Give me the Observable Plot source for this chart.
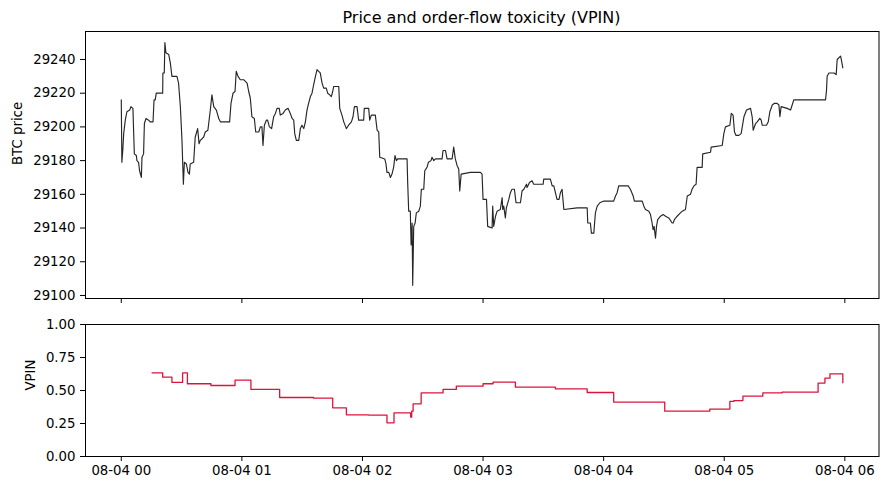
<!DOCTYPE html>
<html>
<head>
<meta charset="utf-8">
<script src="https://cdn.jsdelivr.net/npm/d3@7"></script>
<script src="https://cdn.jsdelivr.net/npm/@observablehq/plot@0.6"></script>
<style>
  html, body { margin: 0; padding: 0; background: white; }
  #wrap { position: relative; width: 888px; height: 490px; font-family: "DejaVu Sans", sans-serif; }
  #title { position: absolute; left: 85px; width: 793px; top: 7px; text-align: center; font-size: 16px; line-height: 22px; color: black; }
  #topPanel { position: absolute; left: 0; top: 0; }
  #bottomPanel { position: absolute; left: 0; top: 305px; }
</style>
</head>
<body>
<div id="wrap">
  <div id="topPanel"></div>
  <div id="bottomPanel"></div>
  <div id="title">Price and order-flow toxicity (VPIN)</div>
</div>
<script>
// ---- data (minutes after 08-04 00:00) ----
const priceLabel = "BTC price";
const vpinLabel = "VPIN";

const priceMinutes = [0,0.3,0.8,1.2,2,2.8,4.2,4.8,5.8,6.1,6.5,7.5,7.8,8.6,9.1,10,10.3,11.1,11.5,12.3,13.6,14.4,15.8,16.3,16.9,17.4,20.6,20.7,21.4,21.7,22.2,23.6,24.4,25.2,27.7,28.5,29.4,30.2,30.9,31.4,32.4,33.2,33.9,34.3,36,36.8,38,38.7,39.3,40.2,41,41.8,43.1,44.3,45.1,46,47.3,48.5,49.3,53.9,54.6,55.6,56.6,57.2,58.1,59.2,60.9,62.6,63.4,64.2,65,66.2,66.9,68.4,69.2,70,70.5,71.2,72.2,72.8,73.7,74.8,75.8,76.7,77.5,78.6,79.1,80.5,81.6,83,84.1,85,85.8,86.3,87.1,88.3,89.1,89.9,90.8,91.6,92.4,93.2,94.1,94.9,95.7,96.6,97.4,98.2,99,99.9,100.7,102,102.7,103.7,104.5,105.2,105.7,108.2,108.7,109.8,110.7,112,113.1,114.5,115.3,116,117.3,118.1,120.6,120.9,123.1,123.6,124.4,126.4,127.3,128.1,128.6,131.1,131.7,132.2,133.1,133.9,134.7,135.5,136.2,136.9,137.5,142.2,142.5,143,143.8,144.2,144.7,145,145.5,146.2,146.8,148,148.8,149.3,150.5,151,152.1,152.8,154.1,154.6,155.5,156.3,159.6,160.1,161.3,162.1,164.6,165.4,166.2,167.1,167.9,168.4,169.1,173.7,178.7,179.5,180,181.7,182.3,184.5,184.8,185.3,186.2,187,188.6,189.5,189.8,190.3,191.1,191.6,192.8,193.6,194.4,195.6,196.4,197.8,198.6,199.4,200.3,201.6,201.9,203.1,204.4,205.2,209.9,210.2,213.5,214.4,215.2,216,216.8,217.8,218.5,219.3,220.2,226.8,231.8,232.1,233.4,233.9,235.1,235.9,236.8,238.1,240.1,245,245.9,246.7,247.5,252.2,253.3,254.7,255.3,259.2,260,260.8,262.5,263.3,264.1,264.6,265.1,265.8,266.3,266.9,268.3,269.6,270.8,272.4,274.1,274.6,275.2,276.6,278.2,279.1,280.7,281.6,283.2,284,284.9,286,286.5,289,289.3,293.2,293.5,299,299.8,300.6,302.8,303.5,304.4,305.1,305.8,307.3,308.4,309.8,311.1,313.1,313.9,314.4,315.6,316.4,317.7,318.4,318.9,321,321.9,322.7,323.9,325,326.3,327.2,327.7,328.3,331.3,333,333.8,334.6,339.6,346.3,350.4,350.9,351.2,352.1,354.6,355.7,356.2,357,357.9,358.4,359];
const priceValues = [29216,29179,29187,29196,29204,29209,29210,29212,29211,29199,29184,29183,29180,29179,29174,29170,29182,29184,29202,29205,29204,29203,29203,29216,29216,29220,29220,29232,29232,29250,29244,29243,29238,29230,29230,29226,29212,29192,29166,29179,29178,29173,29172,29178,29179,29194,29199,29190,29192,29193,29194,29197,29198,29210,29219,29212,29210,29205,29203,29203,29214,29220,29221,29233,29230,29228,29228,29226,29221,29217,29206,29205,29197,29197,29200,29200,29189,29201,29204,29204,29200,29199,29206,29208,29211,29211,29207,29208,29210,29211,29208,29205,29204,29196,29192,29192,29199,29201,29199,29203,29210,29214,29218,29220,29225,29230,29234,29233,29232,29226,29223,29223,29220,29219,29218,29221,29224,29224,29211,29207,29203,29199,29201,29203,29206,29212,29212,29204,29204,29211,29211,29204,29207,29207,29198,29197,29182,29181,29178,29173,29173,29170,29172,29176,29183,29180,29181,29181,29167,29150,29150,29130,29143,29106,29141,29143,29149,29150,29153,29163,29163,29174,29176,29179,29180,29182,29180,29181,29181,29186,29186,29181,29181,29188,29181,29177,29175,29162,29172,29173,29173,29172,29157,29157,29141,29140,29153,29141,29147,29150,29151,29158,29151,29153,29146,29152,29157,29161,29163,29163,29155,29155,29155,29162,29163,29166,29164,29167,29168,29166,29166,29169,29169,29165,29165,29161,29157,29157,29161,29163,29151,29152,29152,29143,29143,29137,29137,29149,29153,29155,29156,29156,29159,29161,29165,29165,29163,29159,29156,29156,29153,29151,29150,29148,29143,29139,29141,29134,29141,29145,29147,29148,29147,29146,29143,29143,29145,29147,29149,29150,29151,29159,29160,29163,29165,29166,29176,29176,29184,29185,29188,29189,29196,29200,29201,29208,29207,29197,29195,29195,29196,29206,29210,29211,29206,29198,29202,29203,29205,29204,29201,29201,29203,29209,29213,29214,29214,29213,29206,29212,29211,29210,29213,29216,29216,29216,29216,29222,29230,29232,29232,29231,29240,29241,29242,29239,29235];

const vpinMinutes = [15.3,20.6,25.2,30.5,32.9,44.6,56.6,64.5,78.8,95.7,105.2,112.0,123.1,132.2,135.7,144.0,144.5,145.2,149.2,160.1,166.7,180.0,185.0,196.1,216.0,231.8,245.0,270.4,292.8,302.8,304.8,309.3,319.2,328.8,346.7,350.1,352.6,359.0];
const vpinValues = [0.634,0.601,0.561,0.634,0.551,0.538,0.578,0.508,0.447,0.442,0.369,0.316,0.313,0.255,0.331,0.298,0.343,0.399,0.482,0.508,0.533,0.551,0.563,0.525,0.513,0.485,0.412,0.343,0.359,0.417,0.424,0.457,0.482,0.487,0.556,0.593,0.626,0.558];

const hourTicks = [0,1,2,3,4,5,6];
const priceTicks = [29100,29120,29140,29160,29180,29200,29220,29240];
const vpinTicks = [0,0.25,0.5,0.75,1];

// ---- build ----
const baseTime = Date.UTC(2023, 7, 4, 0, 0);
const toDate = m => new Date(baseTime + m * 60000);
const priceData = priceMinutes.map((m, i) => ({date: toDate(m), price: priceValues[i]}));
const vpinData = vpinMinutes.map((m, i) => ({date: toDate(m), vpin: vpinValues[i]}));
const hourDates = hourTicks.map(h => toDate(h * 60));
const xDomain = [toDate(-17.8), toDate(377)];
const fmt = d3.utcFormat("%m-%d %H");

const baseStyle = {fontSize: "13.3px", fontFamily: "DejaVu Sans, sans-serif", color: "black", background: "white", overflow: "visible"};

const topChart = Plot.plot({
  width: 888, height: 305,
  marginLeft: 85, marginRight: 9.5, marginTop: 31, marginBottom: 7,
  style: baseStyle,
  x: {type: "utc", domain: xDomain, label: null},
  y: {domain: [29098.2, 29256.6], label: null},
  marks: [
    Plot.axisX({ticks: hourDates, tickFormat: () => "", tickSize: 5, label: null}),
    Plot.axisY({ticks: priceTicks, tickFormat: d => String(d), tickSize: 5, tickPadding: 5, label: null}),
    Plot.line(priceData, {x: "date", y: "price", stroke: "#262626", strokeWidth: 1.15}),
    Plot.frame({stroke: "black", strokeWidth: 1}),
    Plot.text([priceLabel], {frameAnchor: "left", dx: -68, rotate: -90, text: d => d, fontSize: 13.3, fill: "black"})
  ]
});
document.getElementById("topPanel").appendChild(topChart);

const bottomChart = Plot.plot({
  width: 888, height: 185,
  marginLeft: 85, marginRight: 9.5, marginTop: 19, marginBottom: 34,
  style: baseStyle,
  x: {type: "utc", domain: xDomain, label: null},
  y: {domain: [0, 1], label: null},
  marks: [
    Plot.axisX({ticks: hourDates, tickFormat: fmt, tickSize: 5, tickPadding: 4, label: null}),
    Plot.axisY({ticks: vpinTicks, tickFormat: d3.format(".2f"), tickSize: 5, tickPadding: 5, label: null}),
    Plot.line(vpinData, {x: "date", y: "vpin", curve: "step-after", stroke: "crimson", strokeWidth: 1.3}),
    Plot.frame({stroke: "black", strokeWidth: 1}),
    Plot.text([vpinLabel], {frameAnchor: "left", dx: -55, rotate: -90, text: d => d, fontSize: 13.3, fill: "black"})
  ]
});
document.getElementById("bottomPanel").appendChild(bottomChart);
</script>
</body>
</html>
